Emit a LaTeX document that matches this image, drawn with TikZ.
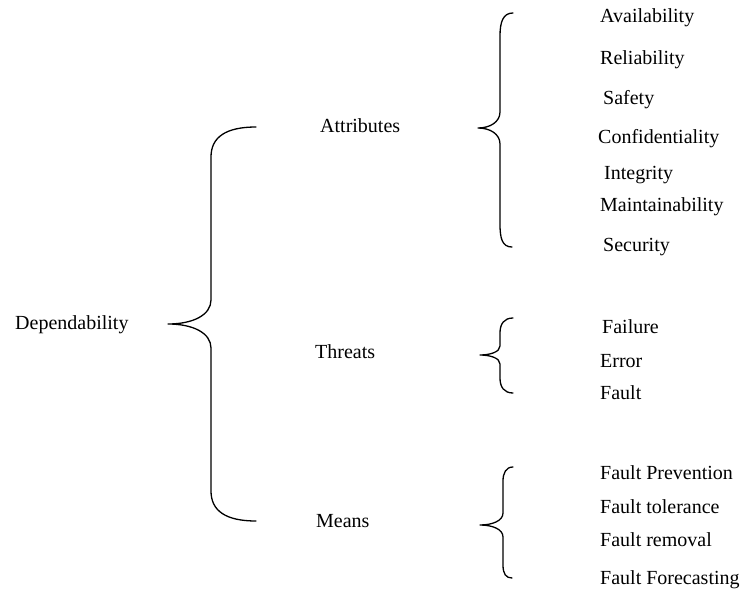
\documentclass[tikz,border=0pt]{standalone}
\usepackage{fontspec}
\setmainfont{Liberation Serif}

\tikzset{
  term/.style={anchor=base west, inner sep=0pt, font=\fontsize{20}{24}\selectfont},
  brace line/.style={line width=1.3pt, line cap=round, line join=round}
}

\begin{document}
\begin{tikzpicture}[x=1pt, y=-1pt]
        \useasboundingbox (0,0) rectangle (748,597);

        % Root and first level
        \node[term] (dep) at (15, 329) {Dependability};
        \node[term] (attr) at (320, 132) {Attributes};
        \node[term] (threats) at (315, 358) {Threats};
        \node[term] (means) at (316, 527) {Means};

        % Main brace
        \draw[brace line] (256,127) .. controls +(-30,0) and +(0,-20) .. (211,157) -- (211,300)
            .. controls +(0,15) and +(25,0) .. (168,324)
            .. controls +(25,0) and +(0,-15) .. (211,348) -- (211,491)
            .. controls +(0,20) and +(-30,0) .. (256,521);

        % Attributes
        \draw[brace line] (513,13) .. controls +(-10,0) and +(0,-14) .. (500,36) -- (500,112)
            .. controls +(0,10) and +(12,0) .. (478,128)
            .. controls +(12,0) and +(0,-10) .. (500,144) -- (500,224)
            .. controls +(0,14) and +(-10,0) .. (512,247);
        \node[term] (avail) at (600, 23) {Availability};
        \node[term] (reli) at (600, 64) {Reliability};
        \node[term] (safety) at (603, 104) {Safety};
        \node[term] (conf) at (598, 143) {Confidentiality};
        \node[term] (integ) at (604, 179) {Integrity};
        \node[term] (maint) at (600, 211) {Maintainability};
        \node[term] (secur) at (603, 251) {Security};

        % Threats
        \draw[brace line] (513,318) .. controls +(-9,0) and +(0,-9) .. (500,333) -- (500,346)
            .. controls +(0,6) and +(10,0) .. (480,355)
            .. controls +(10,0) and +(0,-6) .. (500,364) -- (500,378)
            .. controls +(0,9) and +(-9,0) .. (513,393);
        \node[term] (failure) at (602, 333) {Failure};
        \node[term] (error) at (600, 367) {Error};
        \node[term] (fault) at (600, 399) {Fault};

        % Means
        \draw[brace line] (513,467) .. controls +(-7,0) and +(0,-8) .. (503,481) -- (503,513)
            .. controls +(0,8) and +(12,0) .. (480,525)
            .. controls +(12,0) and +(0,-8) .. (503,537) -- (503,565)
            .. controls +(0,9) and +(-6,0) .. (512,578);
        \node[term] (fprev) at (600, 479) {Fault Prevention};
        \node[term] (ftol) at (600, 513) {Fault tolerance};
        \node[term] (frem) at (600, 546) {Fault removal};
        \node[term] (ffore) at (600, 584) {Fault Forecasting};
\end{tikzpicture}
\end{document}
